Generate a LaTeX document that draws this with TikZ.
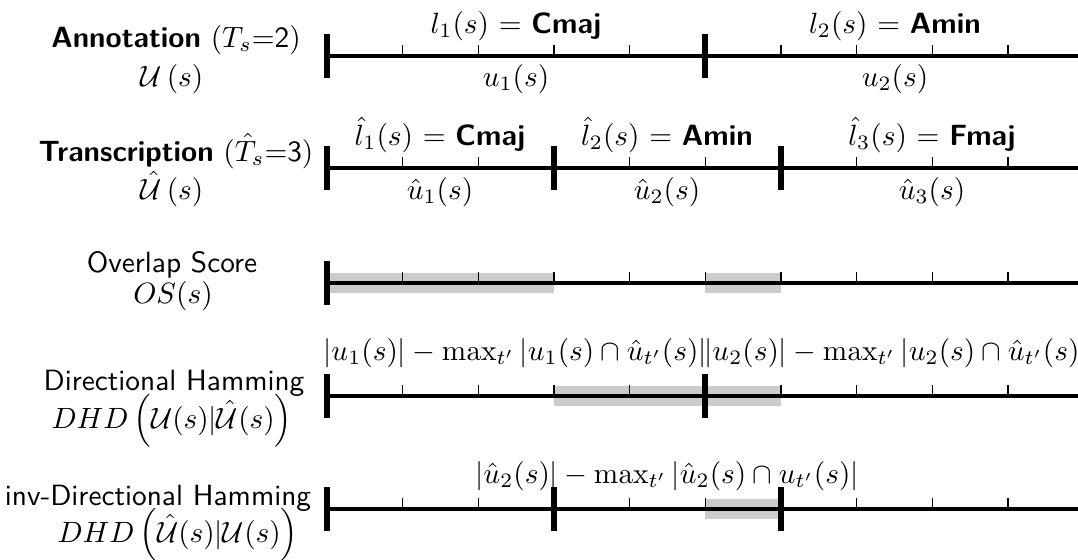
\documentclass[tikz,border=0pt]{standalone}
\usepackage{amsmath}
\begin{document}
\begin{tikzpicture}[x=0.341pt,y=-0.341pt,
  axis/.style={line width=1.05pt},
  bigtick/.style={line width=2pt},
  smalltick/.style={line width=0.45pt},
  band/.style={line width=6.8pt,draw=black!20},
  txt/.style={inner sep=0pt,anchor=base},
  lbl/.style={txt,font=\sffamily}]
\useasboundingbox (0,0) rectangle (1078,559);
\clip (0,0) rectangle (1078,559);
% row coordinates
\foreach \y/\n in {56/a,168/b,283/c,396/d,509/e}{
  \coordinate (\n0) at (327,\y);
  \coordinate (\n1) at (1084,\y);
}
% grey bands
\draw[band] (327,283) -- (554,283);
\draw[band] (705,283) -- (781,283);
\draw[band] (554,396) -- (781,396);
\draw[band] (705,509) -- (781,509);
% axes
\foreach \n in {a,b,c,d,e}{\draw[axis] (\n0) -- (\n1);}
% small ticks
\foreach \y in {56,168,283,396,509}{
  \foreach \k in {1,...,10}{\draw[smalltick] (327+75.65*\k,\y) -- ++(0,-11);}
}
% big ticks
\foreach \x/\y in {327/56,705/56,327/168,554/168,781/168,327/283,327/396,705/396,327/509,554/509,781/509}{
  \draw[bigtick] (\x,\y-22) -- (\x,\y+22);
}
% left labels
\node[lbl] (l1) at (176,47) {\textbf{Annotation} $(T_s$=2$)$};
\node[txt] (s1) at (172,86) {$\mathcal{U}\left(s\right)$};
\node[lbl] (l2) at (176,161) {\textbf{Transcription} $(\hat{T}_s$=3$)$};
\node[txt] (s2) at (172,199) {$\hat{\mathcal{U}}\left(s\right)$};
\node[lbl] (l3) at (172,272) {Overlap Score};
\node[txt] (s3) at (173,303) {$OS(s)$};
\node[lbl] (l4) at (174,390) {Directional Hamming};
\node[txt] (s4) at (172,428) {$DHD\left(\mathcal{U}(s)|\hat{\mathcal{U}}(s)\right)$};
\node[lbl] (l5) at (158,505) {inv-Directional Hamming};
\node[txt] (s5) at (178,542) {$DHD\left(\hat{\mathcal{U}}(s)|\mathcal{U}(s)\right)$};
% segment labels row 1
\node[txt] (t11) at (516,33) {$l_1(s)$ = \textsf{\bfseries Cmaj}};
\node[txt] (b11) at (516,86) {$u_1(s)$};
\node[txt] (t12) at (895,33) {$l_2(s)$ = \textsf{\bfseries Amin}};
\node[txt] (b12) at (895,86) {$u_2(s)$};
% segment labels row 2
\node[txt] (t21) at (440,145) {$\hat{l}_1(s)$ = \textsf{\bfseries Cmaj}};
\node[txt] (b21) at (440,199) {$\hat{u}_1(s)$};
\node[txt] (t22) at (667,145) {$\hat{l}_2(s)$ = \textsf{\bfseries Amin}};
\node[txt] (b22) at (667,199) {$\hat{u}_2(s)$};
\node[txt] (t23) at (932,145) {$\hat{l}_3(s)$ = \textsf{\bfseries Fmaj}};
\node[txt] (b23) at (932,199) {$\hat{u}_3(s)$};
% DHD labels
\node[txt] (d1) at (515,360) {$|u_1(s)|-\max_{t'}|u_1(s)\cap\hat{u}_{t'}(s)|$};
\node[txt] (d2) at (896,360) {$|u_2(s)|-\max_{t'}|u_2(s)\cap\hat{u}_{t'}(s)|$};
\node[txt] (d3) at (667,483) {$|\hat{u}_2(s)|-\max_{t'}|\hat{u}_2(s)\cap u_{t'}(s)|$};
\end{tikzpicture}
\end{document}
